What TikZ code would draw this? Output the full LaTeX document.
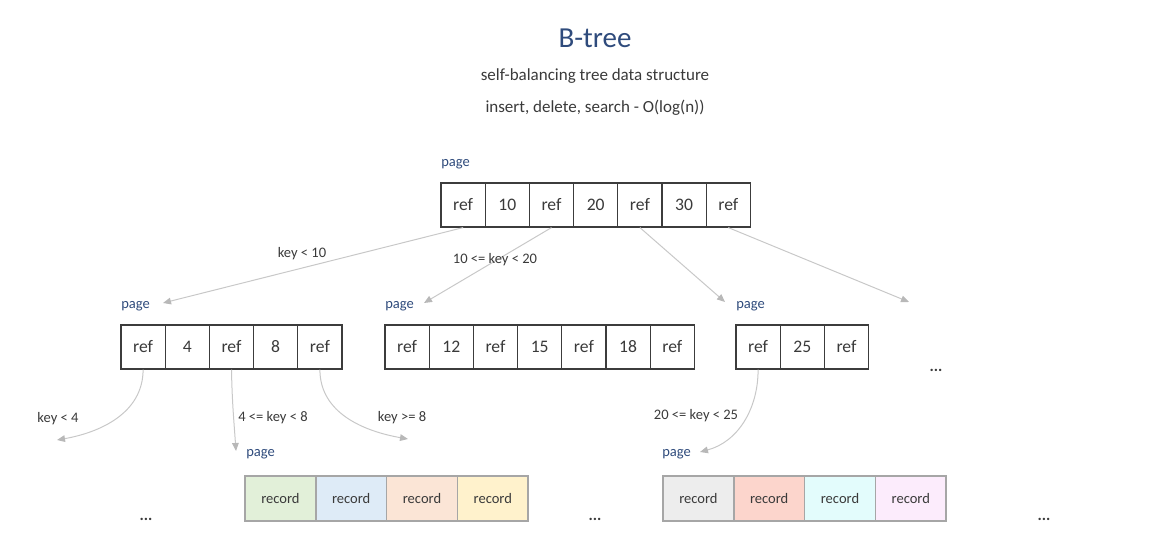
\documentclass[tikz,border=0pt]{standalone}
\usepackage{fontspec}
\setmainfont{Carlito}
\usetikzlibrary{arrows.meta}
\definecolor{txt}{HTML}{3A3A3A}
\definecolor{ttl}{HTML}{2F4B7C}
\definecolor{pg}{HTML}{2F4B7C}
\definecolor{cellb}{HTML}{3C3C3C}
\definecolor{arrc}{HTML}{C8C8C8}
\definecolor{tipc}{HTML}{B8B8B8}
\definecolor{recb}{HTML}{A6A6A6}
\definecolor{rA}{HTML}{E2F0D9}
\definecolor{rB}{HTML}{DEEBF7}
\definecolor{rC}{HTML}{FBE5D6}
\definecolor{rD}{HTML}{FFF2CC}
\definecolor{rE}{HTML}{EDEDED}
\definecolor{rF}{HTML}{FCD5CC}
\definecolor{rG}{HTML}{E3FCFC}
\definecolor{rH}{HTML}{FCECFC}
\begin{document}
\begin{tikzpicture}[x=0.75pt,y=-0.75pt,
  cell/.style={draw=cellb, line width=0.9pt, minimum width=33.15pt, minimum height=33pt, inner sep=0pt, text=txt, font=\fontsize{13.2}{15}\selectfont},
  rec/.style={draw=recb, line width=1.1pt, minimum width=53.1pt, minimum height=33.5pt, inner sep=0pt, text=txt, font=\fontsize{10.9}{12}\selectfont},
  pagelbl/.style={text=pg, anchor=west, inner sep=0pt, font=\fontsize{10.9}{12}\selectfont},
  lbl/.style={text=txt, inner sep=1pt, font=\fontsize{10.9}{12}\selectfont},
  dots/.style={text=txt, inner sep=1pt, font=\fontsize{12}{14}\selectfont\bfseries},
  arr/.style={draw=arrc, line width=0.75pt, -{Triangle[length=6pt,width=5pt,color=tipc]}}
]
\useasboundingbox (0,0) rectangle (1176,559);

% titles
\node[text=ttl, font=\fontsize{21.75}{24}\selectfont] (title) at (595,38) {B-tree};
\node[text=txt, font=\fontsize{12.75}{15}\selectfont] (sub1) at (595,76) {self-balancing tree data structure};
\node[text=txt, font=\fontsize{12.75}{15}\selectfont] (sub2) at (595,108) {insert, delete, search - O(log(n))};

% root page
\node[pagelbl] (p0) at (441,164) {page};
\foreach \t [count=\i] in {ref,10,ref,20,ref,30,ref}
  \node[cell] (t\i) at ({441+44.2*(\i-0.5)},205) {\t};

% second level
\node[pagelbl] (p1) at (121,306) {page};
\foreach \t [count=\i] in {ref,4,ref,8,ref}
  \node[cell] (l\i) at ({121+44.2*(\i-0.5)},347) {\t};

\node[pagelbl] (p2) at (385,306) {page};
\foreach \t [count=\i] in {ref,12,ref,15,ref,18,ref}
  \node[cell] (m\i) at ({385+44.2*(\i-0.5)},347) {\t};

\node[pagelbl] (p3) at (736,306) {page};
\foreach \t [count=\i] in {ref,25,ref}
  \node[cell] (r\i) at ({736+44.2*(\i-0.5)},347) {\t};

\node[dots] (d1) at (936,370) {...};

% leaf pages
\node[pagelbl] (p4) at (246,454) {page};
\foreach \c [count=\i] in {rA,rB,rC,rD}
  \node[rec, fill=\c] (a\i) at ({245+70.8*(\i-0.5)},498.5) {record};

\node[pagelbl] (p5) at (662,454) {page};
\foreach \c [count=\i] in {rE,rF,rG,rH}
  \node[rec, fill=\c] (b\i) at ({663+70.8*(\i-0.5)},498.5) {record};

\node[dots] (d2) at (146,519) {...};
\node[dots] (d3) at (595,519) {...};
\node[dots] (d4) at (1044,519) {...};

% arrow ends
\coordinate (e1) at (163,303);
\coordinate (e2) at (424,303);
\coordinate (e3) at (725,302);
\coordinate (e4) at (909,302);
\coordinate (e5) at (57,440);
\coordinate (e6) at (236,451);
\coordinate (e7) at (408,439);
\coordinate (e8) at (700,452);

\draw[arr] (t1.south) -- (e1);
\draw[arr] (t3.south) -- (e2);
\draw[arr] (t5.south) -- (e3);
\draw[arr] (t7.south) -- (e4);

\draw[arr] (l1.south) to[out=-90,in=10] (e5);
\draw[arr] (l3.south) to[out=-89,in=94] (e6);
\draw[arr] (l5.south) to[out=-90,in=170] (e7);
\draw[arr] (r1.south) to[out=-90,in=15] (e8);

% labels
\node[lbl] (k1) at (302,254) {key < 10};
\node[lbl] (k2) at (495,260) {10 <= key < 20};
\node[lbl] (k3) at (58,419) {key < 4};
\node[lbl] (k4) at (273,418) {4 <= key < 8};
\node[lbl] (k5) at (402,418) {key >= 8};
\node[lbl] (k6) at (696,416) {20 <= key < 25};
\end{tikzpicture}
\end{document}
